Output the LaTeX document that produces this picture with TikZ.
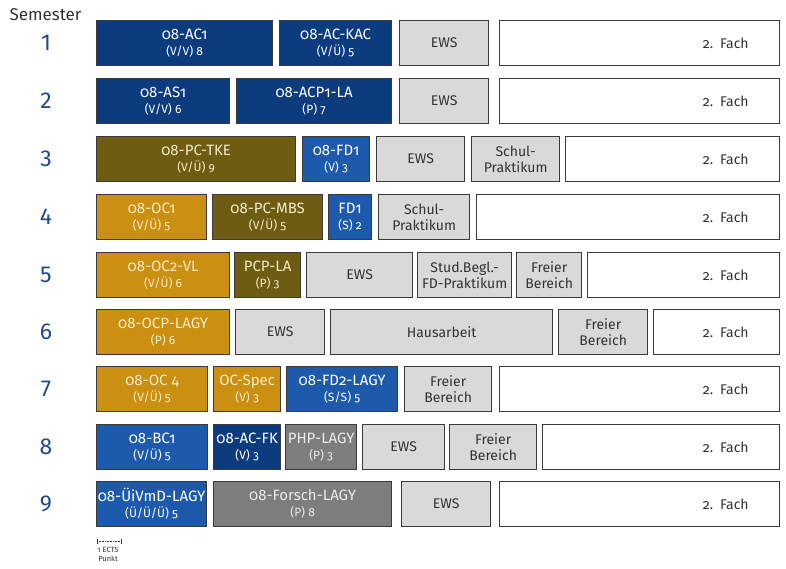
\documentclass[tikz,border=0pt]{standalone}
\usepackage{fontspec}
\setmainfont{Fira Sans}[Numbers=OldStyle]
\newfontfamily\linfont{Fira Sans}[Numbers=Lining]
\definecolor{navy}{HTML}{0D3C7E}
\definecolor{mblue}{HTML}{1D5AAB}
\definecolor{olive}{HTML}{6D5C12}
\definecolor{gold}{HTML}{CB8F12}
\definecolor{dgray}{HTML}{7D7D7D}
\definecolor{lgray}{HTML}{D9D9D9}
\definecolor{bord}{HTML}{3A3A3A}
\definecolor{numblue}{HTML}{1F4A87}
\definecolor{cream}{HTML}{F5EBC8}
\definecolor{txtdark}{HTML}{333333}
\newcommand\mainsz{\fontsize{15}{17}\selectfont}
\newcommand\graysz{\fontsize{14}{16}\selectfont}
\newcommand\subsz{\fontsize{12}{13}\selectfont}
\tikzset{
  boxbase/.style={draw=bord, line width=1.3pt, inner sep=0pt, minimum height=45pt, anchor=north west, align=center},
  navybox/.style={boxbase, fill=navy, text=white, font=\mainsz},
  mbluebox/.style={boxbase, fill=mblue, text=white, font=\mainsz},
  olivebox/.style={boxbase, fill=olive, text=cream, font=\mainsz},
  goldbox/.style={boxbase, fill=gold, text=cream, font=\mainsz},
  dgraybox/.style={boxbase, fill=dgray, text=white!92!black, font=\mainsz},
  lgraybox/.style={boxbase, fill=lgray, text=txtdark, font=\graysz},
  fachbox/.style={boxbase, fill=white, text=txtdark, font=\graysz, inner xsep=31pt, align=right},
  semnum/.style={font=\linfont\fontsize{23}{26}\selectfont, text=numblue},
}
% name, style, x1, x2, ytop, text
\newcommand\mb[6]{\node[#2, minimum width={#4pt-#3pt}] (#1) at (#3,#5) {#6};}
% module text: main, sub
\newcommand\mt[2]{#1\\[-1pt]{\subsz #2}}
% 2. Fach box: name, x1, ytop
\newcommand\fach[3]{\node[fachbox, text width={779pt-#2pt-62pt}] (#1) at (#2,#3) {2. Fach};}
\begin{document}
\begin{tikzpicture}[x=1pt,y=-1pt]
\useasboundingbox (0,0) rectangle (786,568);
\fill[white] (0,0) rectangle (786,568);

\node[anchor=west, font=\linfont\fontsize{17}{20}\selectfont, text=txtdark] (sem) at (6,15) {Semester};

% row numbers
\foreach \n/\y in {1/20,2/78,3/136,4/194,5/252,6/309,7/366,8/424,9/481}{
  \node[semnum] (n\n) at (46,\y+23) {\n};
}

% Row 1
\mb{r1a}{navybox}{96}{272}{20}{\mt{08-AC1}{(V/V) 8}}
\mb{r1b}{navybox}{279}{391}{20}{\mt{08-AC-KAC}{(V/Ü) 5}}
\mb{r1c}{lgraybox}{399}{488}{20}{EWS}
\fach{r1f}{499}{20}

% Row 2
\mb{r2a}{navybox}{96}{229}{78}{\mt{08-AS1}{(V/V) 6}}
\mb{r2b}{navybox}{236}{391}{78}{\mt{08-ACP1-LA}{(P) 7}}
\mb{r2c}{lgraybox}{399}{488}{78}{EWS}
\fach{r2f}{499}{78}

% Row 3
\mb{r3a}{olivebox}{96}{295}{136}{\mt{08-PC-TKE}{(V/Ü) 9}}
\mb{r3b}{mbluebox}{302}{369}{136}{\mt{08-FD1}{(V) 3}}
\mb{r3c}{lgraybox}{376}{464}{136}{EWS}
\mb{r3d}{lgraybox}{471}{559}{136}{Schul-\\Praktikum}
\fach{r3f}{565}{136}

% Row 4
\mb{r4a}{goldbox}{96}{206}{194}{\mt{08-OC1}{(V/Ü) 5}}
\mb{r4b}{olivebox}{212}{322}{194}{\mt{08-PC-MBS}{(V/Ü) 5}}
\mb{r4c}{mbluebox}{328}{371}{194}{\mt{FD1}{(S) 2}}
\mb{r4d}{lgraybox}{378}{469}{194}{Schul-\\Praktikum}
\fach{r4f}{476}{194}

% Row 5
\mb{r5a}{goldbox}{96}{229}{252}{\mt{08-OC2-VL}{(V/Ü) 6}}
\mb{r5b}{olivebox}{234}{300}{252}{\mt{PCP-LA}{(P) 3}}
\mb{r5c}{lgraybox}{306}{412}{252}{EWS}
\mb{r5d}{lgraybox}{417}{511}{252}{Stud.Begl.-\\FD-Praktikum}
\mb{r5e}{lgraybox}{516}{581}{252}{Freier\\Bereich}
\fach{r5f}{587}{252}

% Row 6
\mb{r6a}{goldbox}{96}{229}{309}{\mt{08-OCP-LAGY}{(P) 6}}
\mb{r6b}{lgraybox}{235}{324}{309}{EWS}
\mb{r6c}{lgraybox}{330}{552}{309}{Hausarbeit}
\mb{r6d}{lgraybox}{558}{647}{309}{Freier\\Bereich}
\fach{r6f}{653}{309}

% Row 7
\mb{r7a}{goldbox}{96}{207}{366}{\mt{08-OC 4}{(V/Ü) 5}}
\mb{r7b}{goldbox}{213}{280}{366}{\mt{OC-Spec}{(V) 3}}
\mb{r7c}{mbluebox}{286}{397}{366}{\mt{08-FD2-LAGY}{(S/S) 5}}
\mb{r7d}{lgraybox}{404}{491}{366}{Freier\\Bereich}
\fach{r7f}{499}{366}

% Row 8
\mb{r8a}{mbluebox}{96}{207}{424}{\mt{08-BC1}{(V/Ü) 5}}
\mb{r8b}{navybox}{213}{280}{424}{\mt{08-AC-FK}{(V) 3}}
\mb{r8c}{dgraybox}{285}{356}{424}{\mt{PHP-LAGY}{(P) 3}}
\mb{r8d}{lgraybox}{362}{444}{424}{EWS}
\mb{r8e}{lgraybox}{449}{536}{424}{Freier\\Bereich}
\fach{r8f}{542}{424}

% Row 9
\mb{r9a}{mbluebox}{96}{206}{481}{\mt{08-ÜiVmD-LAGY}{(Ü/Ü/Ü) 5}}
\mb{r9b}{dgraybox}{213}{391}{481}{\mt{08-Forsch-LAGY}{(P) 8}}
\mb{r9c}{lgraybox}{401}{490}{481}{EWS}
\fach{r9f}{499}{481}

% scale bar
\coordinate (sbl) at (97,541);
\coordinate (sbr) at (121,541);
\draw[txtdark, line width=0.6pt, densely dotted] (sbl) -- (sbr);
\draw[txtdark, line width=0.8pt] ([yshift=-2.5pt]sbl) -- ([yshift=2.5pt]sbl);
\draw[txtdark, line width=0.8pt] ([yshift=-2.5pt]sbr) -- ([yshift=2.5pt]sbr);
\node[font=\fontsize{7.5}{9}\selectfont, text=txtdark, align=center, anchor=north] (sbt) at (108,544) {1 ECTS\\Punkt};
\end{tikzpicture}
\end{document}
